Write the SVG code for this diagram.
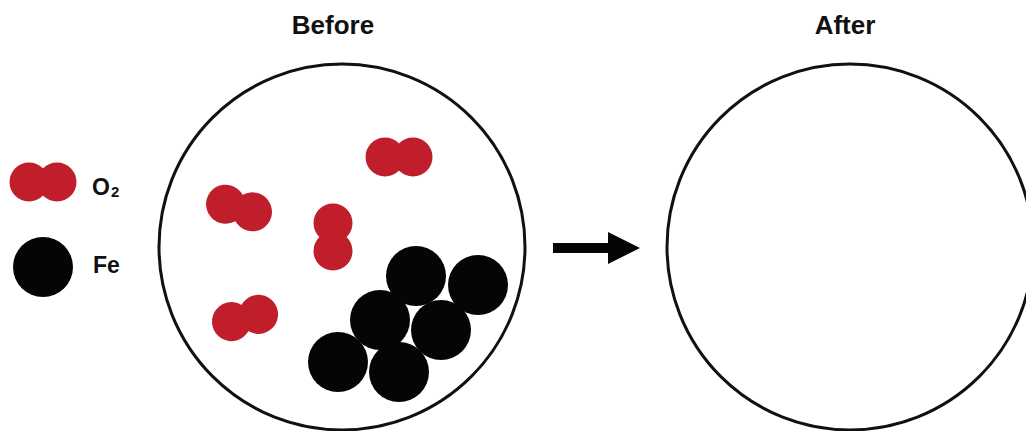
<svg xmlns="http://www.w3.org/2000/svg" width="1026" height="431" viewBox="0 0 1026 431">
  <style>
    .title { font-family: "Liberation Sans", Arial, sans-serif; font-weight: bold; font-size: 26px; fill: #111; text-anchor: middle; }
    .label { font-family: "Liberation Sans", Arial, sans-serif; font-weight: bold; font-size: 23px; fill: #111; }
    .sub { font-size: 15px; }
    .vessel { fill: #fff; stroke: #111; stroke-width: 3; }
    .o { fill: #bf1e2a; }
    .fe { fill: #050505; }
  </style>
  <defs>
    <!-- one O2 molecule: two overlapping atoms, horizontal -->
    <g id="o2h">
      <circle class="o" cx="-14" cy="0" r="19.5"/>
      <circle class="o" cx="14" cy="0" r="19.5"/>
    </g>
    <circle id="feAtom" class="fe" r="30"/>
  </defs>

  <rect width="1026" height="431" fill="#fff"/>

  <!-- legend -->
  <g id="legend-o2">
    <use href="#o2h" x="43" y="182"/>
    <text class="label" x="92" y="195">O<tspan class="sub" dx="1" dy="2">2</tspan></text>
  </g>
  <g id="legend-fe">
    <circle class="fe" cx="43" cy="267" r="30"/>
    <text class="label" x="93" y="273">Fe</text>
  </g>

  <!-- before vessel -->
  <g id="before">
    <text class="title" x="333" y="34">Before</text>
    <circle class="vessel" cx="342" cy="247" r="183"/>
    <g id="before-oxygen">
      <use href="#o2h" x="399" y="157"/>
      <use href="#o2h" transform="translate(239 208) rotate(16)"/>
      <use href="#o2h" transform="translate(333 237) rotate(90)"/>
      <use href="#o2h" transform="translate(245 318) rotate(-15)"/>
    </g>
    <g id="before-iron">
      <use href="#feAtom" x="416" y="276"/>
      <use href="#feAtom" x="478" y="285"/>
      <use href="#feAtom" x="380" y="320"/>
      <use href="#feAtom" x="441" y="330"/>
      <use href="#feAtom" x="338" y="362"/>
      <use href="#feAtom" x="399" y="372"/>
    </g>
  </g>

  <!-- reaction arrow -->
  <g id="connectors">
    <path d="M553 243 H608 V232 L640 248 L608 264 V253 H553 Z" fill="#050505"/>
  </g>

  <!-- after vessel (empty) -->
  <g id="after">
    <text class="title" x="845" y="34">After</text>
    <circle class="vessel" cx="850" cy="247" r="183"/>
  </g>
</svg>
